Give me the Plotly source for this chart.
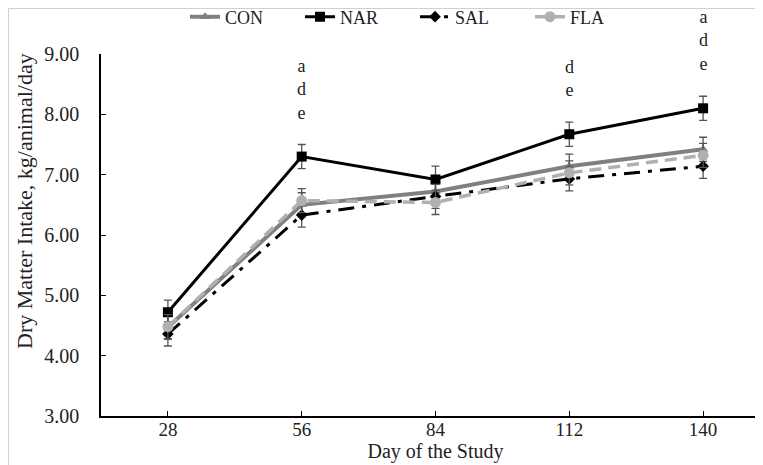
import plotly.graph_objects as go

days = ["28", "56", "84", "112", "140"]
con = [4.47, 6.50, 6.72, 7.14, 7.42]
nar = [4.72, 7.30, 6.92, 7.67, 8.10]
sal = [4.36, 6.33, 6.64, 6.93, 7.14]
fla = [4.48, 6.57, 6.54, 7.03, 7.32]
con_err = [0.20, 0.20, 0.20, 0.20, 0.20]
nar_err = [0.20, 0.20, 0.22, 0.20, 0.20]
sal_err = [0.20, 0.20, 0.20, 0.20, 0.20]
fla_err = [0.20, 0.20, 0.20, 0.20, 0.20]
letters = ["", "a<br>d<br>e", "", "d<br>e", "a<br>d<br>e"]
y_title = "Dry Matter Intake, kg/animal/day"
x_title = "Day of the Study"

font_family = "Liberation Serif, Times New Roman, serif"
err_style = dict(type="data", thickness=1.3, width=4, color="#555555")

L, R, T, B = 93, 1, 46, 57
W, H = 763, 465
pw, ph = W - L - R, H - T - B

fig = go.Figure()
fig.add_trace(go.Scatter(
    x=days, y=con, name="CON", mode="lines+markers",
    line=dict(color="#808080", width=4),
    marker=dict(symbol="triangle-up", size=9, color="#808080"),
    error_y=dict(array=con_err, **err_style)))
fig.add_trace(go.Scatter(
    x=days, y=nar, name="NAR", mode="lines+markers",
    line=dict(color="#000000", width=3),
    marker=dict(symbol="square", size=10, color="#000000"),
    error_y=dict(array=nar_err, **err_style)))
fig.add_trace(go.Scatter(
    x=days, y=sal, name="SAL", mode="lines+markers",
    line=dict(color="#000000", width=3, dash="16px,8px,4px,8px"),
    marker=dict(symbol="diamond", size=9, color="#000000"),
    error_y=dict(array=sal_err, **err_style)))
fig.add_trace(go.Scatter(
    x=days, y=fla, name="FLA", mode="lines+markers",
    line=dict(color="#b0b0b0", width=3.5, dash="12px,7px"),
    marker=dict(symbol="circle", size=11, color="#b0b0b0"),
    error_y=dict(array=fla_err, **err_style)))

for i, (v, e, t) in enumerate(zip(nar, nar_err, letters)):
    if t:
        fig.add_annotation(x=i, y=v + e, text=t, showarrow=False,
                           xref="x", yref="y", yanchor="bottom", yshift=20,
                           font=dict(family=font_family, size=18, color="#222222"))

fig.add_annotation(text=y_title, xref="paper", yref="paper",
                   x=-(L - 16) / pw, y=(ph - (193 - T)) / ph,
                   xanchor="center", yanchor="middle", textangle=-90, showarrow=False,
                   font=dict(family=font_family, size=22, color="#222222"))

fig.update_layout(
    width=W, height=H,
    margin=dict(l=L, r=R, t=T, b=B, autoexpand=False),
    paper_bgcolor="white", plot_bgcolor="white",
    font=dict(family=font_family, size=19, color="#222222"),
    showlegend=True,
    legend=dict(orientation="h", x=(177 - L) / pw, xanchor="left",
                y=1 + (T - 9) / ph, yanchor="middle",
                font=dict(size=18, family=font_family, color="#222222"),
                entrywidth=70, entrywidthmode="pixels",
                bgcolor="rgba(0,0,0,0)", borderwidth=0),
    xaxis=dict(type="category", range=[-0.5, 4.5], showgrid=False, automargin=False,
               showline=True, linecolor="#000000", linewidth=1.5,
               ticks="inside", ticklen=5, tickcolor="#000000",
               tickfont=dict(size=19), ticklabelstandoff=-5,
               title=dict(text=x_title, font=dict(size=20), standoff=0)),
    yaxis=dict(range=[3, 9], dtick=1, tickformat=".2f", showgrid=False, automargin=False,
               showline=True, linecolor="#000000", linewidth=1.5,
               ticks="inside", ticklen=5, tickcolor="#000000",
               tickfont=dict(size=20), ticklabelstandoff=16),
    shapes=[dict(type="rect", xref="paper", yref="paper",
                 x0=-(L - 0.5) / pw, x1=1 + (R - 0.5) / pw,
                 y0=-(B - 0.5) / ph, y1=1 + (T - 0.5) / ph,
                 line=dict(color="#d0d0d0", width=1))],
)

fig.write_html("out.html")
